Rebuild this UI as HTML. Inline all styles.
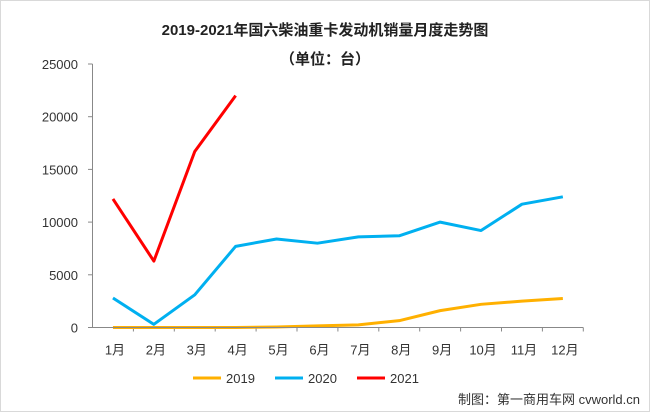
<!DOCTYPE html>
<html><head><meta charset="utf-8"><style>
body{margin:0;background:#fff}
svg text{font-family:"Liberation Sans","Noto Sans CJK SC",sans-serif}
</style></head><body>
<svg id="c" width="650" height="412">
<rect x="0.5" y="0.5" width="649" height="411" fill="#fff" stroke="#d9d9d9"/>
<text x="325" y="35" text-anchor="middle" font-size="15" font-weight="bold" fill="#222">2019-2021年国六柴油重卡发动机销量月度走势图</text>
<text x="325" y="64" text-anchor="middle" font-size="15" font-weight="bold" fill="#222">（单位：台）</text>
<text x="640" y="404" text-anchor="end" font-size="13" fill="#333">制图：第一商用车网 cvworld.cn</text>
</svg>
<script>
const categories=['1月','2月','3月','4月','5月','6月','7月','8月','9月','10月','11月','12月'];
const yTicks=[0,5000,10000,15000,20000,25000];
const s2019=[0,0,0,0,50,150,250,650,1600,2200,2500,2750];
const s2020=[2800,300,3100,7700,8400,8000,8600,8700,10000,9200,11700,12400];
const s2021=[12200,6300,16700,22000];
const seriesNames=['2019','2020','2021'];
const colors=['#ffb000','#00b0f0','#ff0000'];
const svg=document.getElementById('c');const NS='http://www.w3.org/2000/svg';
const X0=92.5,BW=40.9,Y0=327.5,Y1=64,YMAX=25000;
const x=i=>X0+BW*(i+0.5);const y=v=>Y0-(Y0-Y1)*v/YMAX;
function mk(t,a,p){const e=document.createElementNS(NS,t);for(const k in a)e.setAttribute(k,a[k]);(p||svg).appendChild(e);return e;}
yTicks.forEach(v=>{
 const l=mk('line',{x1:88,x2:92.5,y1:y(v),y2:y(v),stroke:'#888'});
 
 
 const t=mk('text',{x:78,y:y(v)+5,'text-anchor':'end','font-size':13,fill:'#333'});t.textContent=v;
 
 
});
const ya=mk('line',{x1:92.5,x2:92.5,y1:Y1,y2:Y0,stroke:'#888'});


categories.forEach((c,i)=>{
 const tk=mk('line',{x1:X0+BW*(i+1),x2:X0+BW*(i+1),y1:Y0,y2:Y0+4,stroke:'#888'});
 
 
 const t=mk('text',{x:x(i)+2,y:Y0+27,'text-anchor':'middle','font-size':13,fill:'#333'});t.textContent=c;
 
 
});
[s2019,s2020,s2021].forEach((s,k)=>{
 const p=mk('polyline',{points:s.map((v,i)=>x(i)+','+y(v)).join(' '),fill:'none',stroke:colors[k],'stroke-width':3,'stroke-linejoin':'round'});
 
 
});
const xa=mk('line',{x1:92.5,x2:X0+BW*12,y1:Y0,y2:Y0,stroke:'#888'});


const lx=[193,275,357];
seriesNames.forEach((n,k)=>{
 const g=mk('g',{});
 
 
 mk('line',{x1:lx[k],x2:lx[k]+28,y1:378,y2:378,stroke:colors[k],'stroke-width':3},g);
 const t=mk('text',{x:lx[k]+33,y:383,'font-size':13,fill:'#333'},g);t.textContent=n;
});
</script>
</body></html>
